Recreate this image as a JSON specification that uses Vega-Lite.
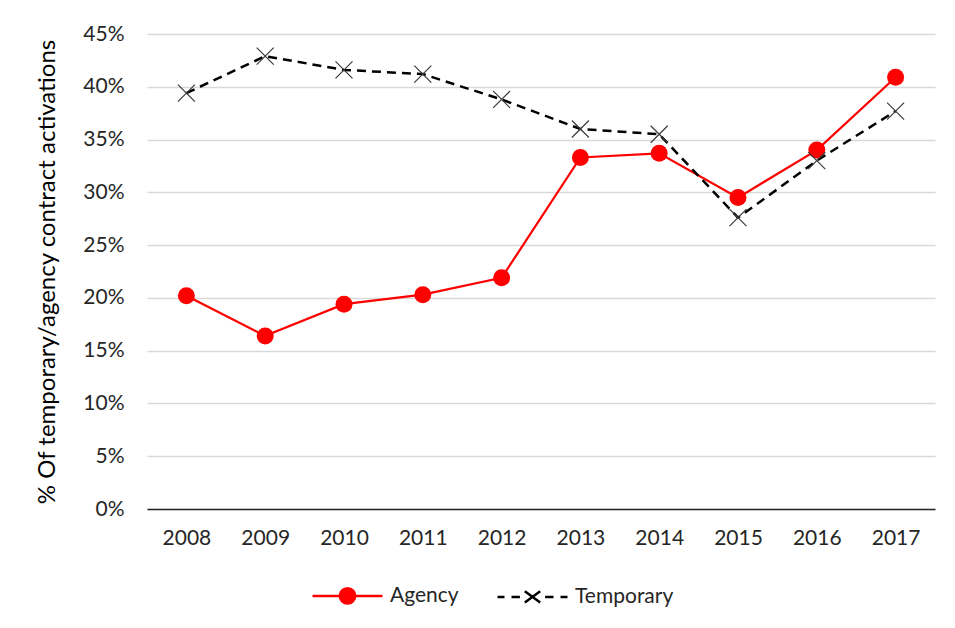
{
  "$schema": "https://vega.github.io/schema/vega-lite/v6.json",
  "width": 788,
  "height": 475,
  "autosize": "none",
  "padding": {"left": 147, "top": 34, "right": 20, "bottom": 119},
  "background": "white",
  "config": {"view": {"stroke": null}, "font": "Lato"},
  "data": {"values": [
    {"year": "2008", "series": "Agency", "value": 0.202},
    {"year": "2009", "series": "Agency", "value": 0.164},
    {"year": "2010", "series": "Agency", "value": 0.194},
    {"year": "2011", "series": "Agency", "value": 0.203},
    {"year": "2012", "series": "Agency", "value": 0.219},
    {"year": "2013", "series": "Agency", "value": 0.333},
    {"year": "2014", "series": "Agency", "value": 0.337},
    {"year": "2015", "series": "Agency", "value": 0.295},
    {"year": "2016", "series": "Agency", "value": 0.340},
    {"year": "2017", "series": "Agency", "value": 0.409},
    {"year": "2008", "series": "Temporary", "value": 0.394},
    {"year": "2009", "series": "Temporary", "value": 0.429},
    {"year": "2010", "series": "Temporary", "value": 0.416},
    {"year": "2011", "series": "Temporary", "value": 0.412},
    {"year": "2012", "series": "Temporary", "value": 0.388},
    {"year": "2013", "series": "Temporary", "value": 0.360},
    {"year": "2014", "series": "Temporary", "value": 0.355},
    {"year": "2015", "series": "Temporary", "value": 0.276},
    {"year": "2016", "series": "Temporary", "value": 0.330},
    {"year": "2017", "series": "Temporary", "value": 0.377}
  ]},
  "encoding": {
    "x": {
      "field": "year", "type": "ordinal",
      "scale": {"type": "point", "padding": 0.5},
      "axis": {"title": null, "labelAngle": 0, "labelFont": "Lato", "labelFontSize": 21, "labelColor": "#262626", "labelPadding": 18, "ticks": false, "domainColor": "#262626", "domainWidth": 1.3, "grid": false}
    },
    "y": {
      "field": "value", "type": "quantitative",
      "scale": {"domain": [0, 0.45]},
      "axis": {"values": [0, 0.05, 0.1, 0.15, 0.2, 0.25, 0.3, 0.35, 0.4, 0.45], "format": ".0%", "title": "% Of temporary/agency contract activations", "titleFont": "Lato", "titleFontSize": 24, "titleFontWeight": "normal", "titleColor": "#000000", "titlePadding": 23, "labelFont": "Lato", "labelFontSize": 21, "labelColor": "#262626", "labelPadding": 23, "ticks": false, "domain": false, "gridColor": "#D9D9D9", "gridWidth": 1.4}
    }
  },
  "layer": [
    {
      "transform": [{"filter": "datum.series === 'Agency'"}],
      "mark": {"type": "line", "strokeWidth": 2.25},
      "encoding": {
        "color": {
          "field": "series", "type": "nominal",
          "scale": {"domain": ["Agency", "Temporary"], "range": ["#FF0000", "#000000"]},
          "legend": {
            "title": null, "orient": "none", "direction": "horizontal",
            "legendX": 164, "legendY": 525, "padding": 0,
            "symbolSize": 4900, "labelOffset": 6, "columnPadding": 33,
            "labelFont": "Lato", "labelFontSize": 21, "labelColor": "#262626",
            "encode": {"symbols": {"update": {
              "shape": {"signal": "datum.value === 'Agency' ? 'M-1,0L1,0M-0.22,0A0.22,0.22 0 1,0 0.22,0A0.22,0.22 0 1,0 -0.22,0' : 'M-1,0L-0.8,0M-0.6,0L-0.36,0M0.36,0L0.6,0M0.8,0L1,0M-0.22,-0.16L0.22,0.16M-0.22,0.16L0.22,-0.16'"},
              "fill": {"signal": "datum.value === 'Agency' ? '#FF0000' : 'transparent'"},
              "stroke": {"signal": "datum.value === 'Agency' ? '#FF0000' : '#000000'"},
              "strokeWidth": {"value": 2.5},
              "size": {"value": 4900},
              "opacity": {"value": 1}
            }}}
          }
        }
      }
    },
    {
      "transform": [{"filter": "datum.series === 'Agency'"}],
      "mark": {"type": "point", "shape": "circle", "filled": true, "size": 289, "color": "#FF0000", "opacity": 1}
    },
    {
      "transform": [{"filter": "datum.series === 'Temporary'"}],
      "mark": {"type": "line", "strokeWidth": 2.5, "strokeDash": [9, 6]},
      "encoding": {
        "color": {"field": "series", "type": "nominal"}
      }
    },
    {
      "transform": [{"filter": "datum.series === 'Temporary'"}],
      "mark": {"type": "point", "shape": "M-1,-1L1,1M-1,1L1,-1", "filled": false, "size": 289, "stroke": "#3a3a3a", "strokeWidth": 1.2, "opacity": 1}
    }
  ]
}
